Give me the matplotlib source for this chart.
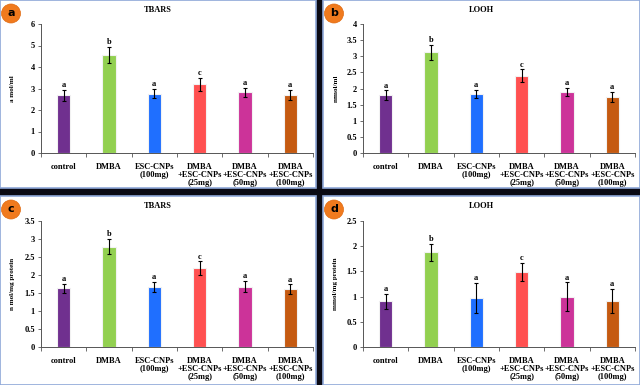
import matplotlib.pyplot as plt
from matplotlib.patches import Rectangle, Circle
from matplotlib.ticker import FormatStrFormatter, FixedLocator

groups = ['control', 'DMBA', 'ESC-CNPs\n(100mg)', 'DMBA\n+ESC-CNPs\n(25mg)',
          'DMBA\n+ESC-CNPs\n(50mg)', 'DMBA\n+ESC-CNPs\n(100mg)']
colors = ['#70308F', '#92D050', '#1F6FFF', '#FF5050', '#CC3399', '#C55A11']
sig = ['a', 'b', 'a', 'c', 'a', 'a']

# panel a: TBARS (a mol/ml)
tbars_plasma = [2.68, 4.55, 2.76, 3.2, 2.82, 2.7]
tbars_plasma_err = [0.25, 0.38, 0.22, 0.3, 0.2, 0.23]
# panel b: LOOH (mmol/ml)
looh_plasma = [1.79, 3.12, 1.83, 2.4, 1.9, 1.74]
looh_plasma_err = [0.15, 0.24, 0.12, 0.2, 0.13, 0.16]
# panel c: TBARS (n mol/mg protein)
tbars_tissue = [1.63, 2.79, 1.67, 2.19, 1.68, 1.6]
tbars_tissue_err = [0.12, 0.21, 0.14, 0.19, 0.15, 0.14]
# panel d: LOOH (mmol/mg protein)
looh_tissue = [0.91, 1.88, 0.97, 1.49, 1.0, 0.91]
looh_tissue_err = [0.15, 0.17, 0.3, 0.18, 0.28, 0.24]

W, H = 640, 385
fig = plt.figure(figsize=(6.4, 3.85), dpi=100)
fig.patch.set_facecolor('#0a0a14')

serif = ['Liberation Serif', 'DejaVu Serif']


def px_rect(x0, y0, x1, y1):
    # pixel box (top-left origin) to figure fraction
    return [x0 / W, 1 - y1 / H, (x1 - x0) / W, (y1 - y0) / H]


panels = [
    # panel box, axes box, title, ylabel, letter, data, err, ymax, step
    ((0, 0, 316, 188), (41, 24, 313, 153), 'TBARS', 'a mol/ml', 'a',
     tbars_plasma, tbars_plasma_err, 6, 1),
    ((323, 0, 640, 188), (363, 24, 635, 153), 'LOOH', 'mmol/ml', 'b',
     looh_plasma, looh_plasma_err, 4, 0.5),
    ((0, 196, 316, 385), (41, 221, 313, 347), 'TBARS', 'n mol/mg protein', 'c',
     tbars_tissue, tbars_tissue_err, 3.5, 0.5),
    ((323, 196, 640, 385), (363, 221, 635, 347), 'LOOH', 'mmol/mg protein', 'd',
     looh_tissue, looh_tissue_err, 2.5, 0.5),
]

for pbox, abox, title, ylab, letter, vals, errs, ymax, step in panels:
    px0, py0, px1, py1 = pbox
    l, b, w, h = px_rect(px0, py0, px1, py1)
    fig.patches.append(Rectangle((l, b), w, h, transform=fig.transFigure,
                                 facecolor='white', edgecolor='#8fa8d8',
                                 linewidth=1.2, zorder=-5))

    ax = fig.add_axes(px_rect(*abox))
    ax.patch.set_alpha(0)
    x = range(len(vals))
    ax.bar(x, vals, width=0.3, color=colors, edgecolor='#f2f2f2', linewidth=0.8)
    ax.errorbar(x, vals, yerr=errs, fmt='none', ecolor='black', elinewidth=0.8,
                capsize=1.5, capthick=0.8)
    for xi, v, e, s in zip(x, vals, errs, sig):
        ax.text(xi, v + e + ymax * 0.005, s, ha='center', va='bottom',
                fontsize=6, fontweight='bold', family=serif)

    ax.set_xlim(-0.5, len(vals) - 0.5)
    ax.set_ylim(0, ymax)
    yt = [i * step for i in range(int(round(ymax / step)) + 1)]
    ax.set_yticks(yt)
    ax.yaxis.set_major_formatter(FormatStrFormatter('%g'))
    ax.set_xticks(list(x))
    ax.set_xticklabels(groups, fontsize=6, fontweight='bold', family=serif,
                       linespacing=1.05)
    ax.xaxis.set_minor_locator(FixedLocator([i - 0.5 for i in range(len(vals) + 1)]))
    ax.tick_params(axis='x', which='major', length=0, pad=7)
    ax.tick_params(axis='x', which='minor', length=3, width=0.6, color='#555555')
    ax.tick_params(axis='y', length=2.5, width=0.6, color='#555555', pad=2)
    for lab in ax.get_yticklabels():
        lab.set_fontsize(6)
        lab.set_fontweight('bold')
        lab.set_family(serif)
    for side in ['top', 'right']:
        ax.spines[side].set_visible(False)
    for side in ['left', 'bottom']:
        ax.spines[side].set_color('#555555')
        ax.spines[side].set_linewidth(0.7)

    cx = (px0 + px1) / 2
    fig.text(cx / W, 1 - (py0 + 10) / H, title, ha='center', va='center',
             fontsize=6, fontweight='bold', family=serif)
    ay0, ay1 = abox[1], abox[3]
    fig.text((px0 + 13) / W, 1 - (ay0 + ay1) / 2 / H, ylab, rotation=90,
             ha='center', va='center', fontsize=5, fontweight='bold', family=serif)

    bx, by = px0 + 11, py0 + 13.5
    fig.add_artist(Circle((bx / 100, (H - by) / 100), 0.095,
                          transform=fig.dpi_scale_trans, facecolor='#F07A1E',
                          edgecolor='#e06a10', linewidth=0.5))
    fig.text(bx / W, 1 - by / H, letter, ha='center', va='center', fontsize=8,
             fontweight='bold', family='DejaVu Sans', color='black')

fig.savefig('out.png', dpi=100, facecolor=fig.get_facecolor())
